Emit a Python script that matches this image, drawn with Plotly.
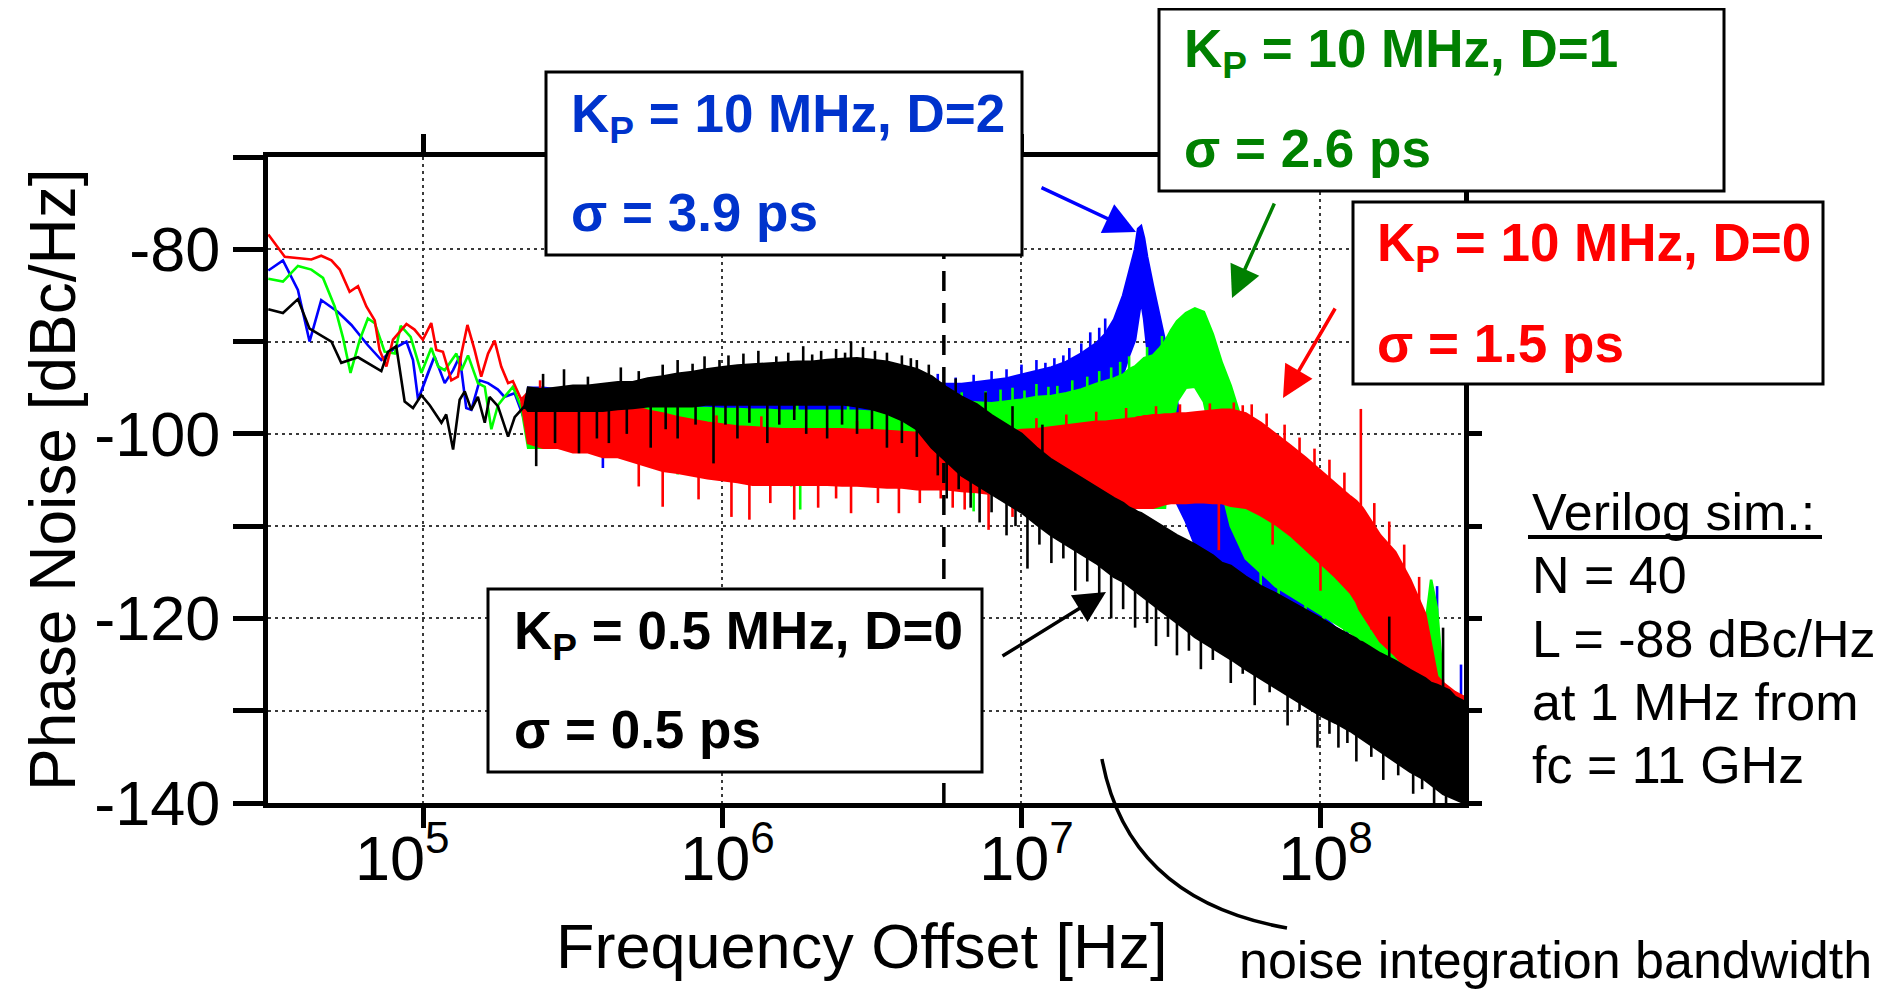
import plotly.graph_objects as go

# ---------------- data (log10 of offset frequency [Hz], phase noise [dBc/Hz]) ----------------
# low-frequency part: individual lines
RED_LINE_LOGF = [4.481, 4.536, 4.625, 4.658, 4.692, 4.720, 4.753, 4.781, 4.809, 4.837, 4.853, 4.876, 4.898,
                 4.943, 4.970, 4.998, 5.026, 5.043, 5.065, 5.093, 5.115, 5.127, 5.147, 5.171, 5.193, 5.216,
                 5.238, 5.260, 5.283, 5.299, 5.327]
RED_LINE_DB = [-78.4, -80.8, -81.1, -80.7, -81.2, -82.2, -84.6, -84.0, -86.2, -87.7, -90.9, -92.7, -89.8,
               -88.1, -88.7, -89.8, -88.0, -90.9, -91.1, -94.2, -93.8, -91.3, -88.2, -90.9, -93.8, -91.3,
               -89.9, -92.7, -94.5, -94.3, -96.3]

BLUE_LINE_LOGF = [4.481, 4.530, 4.580, 4.619, 4.658, 4.714, 4.759, 4.814, 4.859, 4.904, 4.943, 4.965, 4.982,
                  5.015, 5.037, 5.071, 5.099, 5.121, 5.143, 5.160, 5.188, 5.216, 5.249, 5.271, 5.305, 5.338]
BLUE_LINE_DB = [-82.3, -81.2, -84.4, -90.0, -85.5, -86.8, -88.2, -90.4, -92.0, -90.7, -90.0, -92.0, -96.3,
                -93.4, -91.6, -94.5, -93.1, -91.6, -97.2, -97.4, -94.2, -94.5, -95.2, -96.0, -95.6, -98.5]

GREEN_LINE_LOGF = [4.481, 4.530, 4.580, 4.625, 4.664, 4.703, 4.731, 4.756, 4.787, 4.814, 4.837, 4.870, 4.904,
                   4.924, 4.957, 4.993, 5.026, 5.049, 5.071, 5.110, 5.127, 5.149, 5.182, 5.205, 5.227, 5.249,
                   5.271, 5.299, 5.327]
GREEN_LINE_DB = [-83.2, -83.5, -81.8, -82.2, -83.1, -86.2, -89.6, -93.4, -89.8, -87.5, -88.0, -91.1, -91.3,
                 -88.3, -89.5, -93.4, -90.7, -92.7, -93.1, -91.3, -93.1, -91.5, -94.5, -94.9, -99.5, -96.9,
                 -96.0, -94.9, -97.1]

BLACK_LINE_LOGF = [4.481, 4.530, 4.580, 4.619, 4.692, 4.725, 4.781, 4.859, 4.881, 4.909, 4.937, 4.965, 4.993,
                   5.021, 5.060, 5.076, 5.099, 5.121, 5.138, 5.160, 5.182, 5.205, 5.221, 5.249, 5.283, 5.305,
                   5.338]
BLACK_LINE_DB = [-86.5, -86.9, -85.4, -88.6, -90.0, -92.3, -91.7, -93.2, -91.1, -90.5, -96.5, -97.2, -95.8,
                 -96.9, -98.8, -97.9, -101.7, -96.3, -95.4, -97.4, -96.0, -98.8, -96.0, -97.0, -100.3, -98.2,
                 -97.0]

# high-frequency part: dense noise bands, upper / lower envelope of the band body on a common grid
BAND_LOGF = [5.35, 5.40, 5.45, 5.50, 5.55, 5.60, 5.65, 5.70, 5.75, 5.80,
             5.85, 5.90, 5.95, 6.00, 6.05, 6.10, 6.15, 6.20, 6.25, 6.30,
             6.35, 6.40, 6.45, 6.50, 6.55, 6.60, 6.65, 6.70, 6.75, 6.80,
             6.85, 6.90, 6.95, 7.00, 7.05, 7.10, 7.15, 7.20, 7.25, 7.28,
             7.31, 7.34, 7.36, 7.38, 7.39, 7.40, 7.41, 7.42, 7.44, 7.46,
             7.48, 7.50, 7.52, 7.55, 7.58, 7.61, 7.64, 7.67, 7.70, 7.75,
             7.80, 7.85, 7.90, 7.95, 8.00, 8.05, 8.10, 8.12, 8.13, 8.14,
             8.16, 8.20, 8.25, 8.30, 8.35, 8.37, 8.39, 8.41, 8.43, 8.45,
             8.48]

BLUE_HI = [-95.0, -95.0, -95.2, -95.2, -95.3, -95.3, -95.3, -95.2, -95.0, -95.0,
           -95.0, -94.8, -94.8, -94.6, -94.6, -94.5, -94.5, -94.5, -94.5, -94.5,
           -94.5, -94.5, -94.5, -94.5, -94.5, -94.5, -94.5, -94.5, -94.6, -94.6,
           -94.4, -94.2, -94.0, -93.6, -93.2, -92.8, -92.2, -91.3, -90.2, -89.2,
           -87.6, -85.0, -82.5, -80.0, -77.8, -77.5, -78.8, -80.8, -84.0, -87.0,
           -90.0, -93.0, -96.5, -102.0, -104.0, -105.0, -105.5, -106.5, -107.5, -109.0,
           -111.0, -114.0, -116.5, -118.0, -119.5, -121.0, -122.0, -122.5, -122.8, -123.0,
           -123.5, -124.5, -125.5, -126.5, -127.5, -127.8, -128.0, -128.2, -128.3, -128.5,
           -128.5]
BLUE_LO = [-100.5, -100.5, -100.5, -100.5, -100.5, -101.0, -100.5, -100.5, -100.5, -100.5,
           -100.5, -100.5, -100.5, -100.5, -100.5, -100.5, -100.5, -100.5, -100.5, -100.5,
           -100.5, -100.5, -100.5, -100.5, -100.5, -100.5, -100.5, -100.5, -100.2, -100.2,
           -100.0, -100.0, -99.5, -99.5, -99.0, -99.0, -98.5, -98.0, -97.5, -96.5,
           -95.5, -93.5, -91.5, -89.8, -87.5, -85.5, -87.5, -90.5, -93.5, -98.0,
           -102.0, -105.0, -107.5, -109.5, -112.0, -113.0, -113.5, -114.0, -114.5, -115.5,
           -116.5, -118.0, -119.5, -120.5, -121.5, -123.0, -124.0, -124.5, -125.0, -125.0,
           -125.5, -126.5, -127.5, -128.5, -129.5, -130.0, -130.0, -130.5, -131.0, -131.5,
           -132.0]

GREEN_HI = [-96.0, -96.0, -96.0, -96.2, -96.2, -96.3, -96.5, -96.6, -96.8, -97.0,
            -97.0, -97.2, -97.2, -97.3, -97.3, -97.4, -97.4, -97.5, -97.5, -97.5,
            -97.5, -97.5, -97.5, -97.6, -97.6, -97.6, -97.5, -97.2, -96.8, -96.5,
            -96.6, -96.7, -96.5, -96.3, -96.0, -95.9, -95.6, -95.2, -94.6, -94.3,
            -94.0, -93.6, -93.0, -92.7, -92.4, -92.0, -91.8, -91.7, -91.5, -90.8,
            -90.0, -88.8, -87.8, -86.9, -86.4, -86.8, -89.2, -92.3, -94.8, -100.0,
            -104.0, -106.0, -107.0, -108.0, -109.0, -110.0, -111.0, -111.5, -112.0, -112.0,
            -112.5, -114.0, -116.0, -118.5, -121.0, -115.8, -119.0, -127.0, -130.0, -132.0,
            -133.0]
GREEN_LO = [-101.5, -101.5, -101.5, -101.5, -101.5, -101.5, -101.5, -101.5, -101.5, -101.8,
            -102.0, -102.0, -102.2, -102.5, -102.7, -103.0, -103.0, -103.2, -103.5, -103.5,
            -103.5, -103.5, -103.8, -104.0, -104.0, -104.0, -104.2, -104.3, -104.5, -104.5,
            -104.8, -105.0, -105.0, -105.0, -105.2, -105.5, -106.0, -106.0, -106.5, -106.5,
            -107.0, -107.0, -107.0, -107.5, -107.5, -107.5, -107.5, -108.0, -108.0, -108.0,
            -108.0, -100.0, -96.5, -95.0, -94.9, -96.5, -101.0, -106.0, -110.0, -113.5,
            -115.0, -116.5, -117.5, -118.5, -119.5, -120.5, -121.5, -122.0, -122.5, -123.0,
            -123.5, -124.0, -124.8, -126.0, -126.3, -126.3, -126.5, -130.0, -133.0, -134.0,
            -134.0]

RED_HI = [-95.5, -95.5, -96.0, -96.0, -96.5, -96.5, -97.0, -97.0, -97.5, -97.8,
          -98.2, -98.5, -98.8, -99.0, -99.2, -99.3, -99.4, -99.5, -99.5, -99.5,
          -99.5, -99.5, -99.6, -99.6, -99.7, -99.8, -99.9, -100.0, -100.1, -100.2,
          -100.2, -100.0, -99.8, -99.6, -99.5, -99.3, -99.1, -98.9, -98.7, -98.7,
          -98.6, -98.5, -98.4, -98.3, -98.2, -98.2, -98.1, -98.1, -98.0, -98.0,
          -97.9, -97.9, -97.8, -97.8, -97.7, -97.6, -97.5, -97.4, -97.4, -97.8,
          -98.8, -100.0, -101.3, -102.6, -104.0, -105.5, -106.8, -107.3, -107.6, -108.0,
          -109.0, -111.0, -112.8, -115.8, -119.5, -122.7, -126.3, -127.0, -127.5, -128.0,
          -128.5]
RED_LO = [-101.0, -101.5, -101.5, -102.0, -102.0, -102.5, -102.5, -103.0, -103.5, -104.0,
          -104.2, -104.5, -104.8, -105.0, -105.2, -105.5, -105.5, -105.5, -105.5, -105.5,
          -105.5, -105.6, -105.6, -105.7, -105.8, -105.8, -106.0, -106.0, -106.0, -106.2,
          -106.3, -106.5, -106.8, -107.0, -107.2, -107.5, -107.5, -107.8, -108.0, -108.0,
          -108.0, -108.0, -108.0, -108.0, -108.0, -108.0, -108.0, -108.0, -108.0, -107.8,
          -107.6, -107.5, -107.5, -107.5, -107.4, -107.4, -107.5, -107.5, -107.8, -108.0,
          -108.8, -109.8, -111.0, -112.5, -114.0, -115.5, -117.2, -118.2, -119.0, -119.5,
          -120.5, -122.5, -124.0, -125.8, -127.0, -127.4, -127.7, -128.5, -129.0, -129.2,
          -129.5]

BLACK_HI = [-95.0, -95.2, -95.0, -94.8, -94.8, -94.6, -94.4, -94.4, -94.0, -93.8,
            -93.5, -93.3, -93.0, -92.8, -92.6, -92.5, -92.4, -92.3, -92.2, -92.2,
            -92.0, -91.9, -91.8, -92.0, -92.2, -92.6, -93.0, -93.8, -95.0, -96.0,
            -96.8, -98.0, -99.0, -100.0, -101.5, -102.8, -103.8, -104.8, -105.8, -106.4,
            -107.0, -107.5, -108.0, -108.3, -108.5, -108.6, -108.8, -109.0, -109.4, -109.8,
            -110.2, -110.6, -111.0, -111.5, -112.0, -112.6, -113.2, -114.0, -114.3, -115.5,
            -116.5, -117.3, -118.2, -119.1, -120.0, -121.0, -121.8, -122.2, -122.5, -122.6,
            -123.0, -123.8, -124.6, -125.6, -126.5, -127.0, -127.2, -127.5, -127.8, -128.5,
            -129.0]
BLACK_LO = [-97.5, -97.5, -97.5, -97.5, -97.5, -97.5, -97.3, -97.2, -97.0, -97.0,
            -97.0, -97.0, -96.8, -96.8, -96.8, -96.8, -96.8, -96.8, -96.8, -96.8,
            -96.8, -96.8, -97.0, -97.3, -97.8, -98.5, -99.5, -101.5, -103.0, -104.5,
            -105.5, -106.5, -107.5, -108.5, -109.8, -111.0, -112.0, -113.0, -114.0, -114.7,
            -115.5, -116.0, -116.5, -117.0, -117.2, -117.5, -117.7, -118.0, -118.5, -119.0,
            -119.5, -120.0, -120.5, -121.2, -122.0, -122.6, -123.2, -123.8, -124.4, -125.5,
            -126.5, -127.5, -128.5, -129.5, -130.5, -131.3, -132.2, -132.6, -132.8, -133.0,
            -133.5, -134.4, -135.5, -136.6, -137.5, -138.0, -138.5, -139.0, -139.3, -139.6,
            -140.0]

# isolated spectral spikes sticking out of the bands: (log10 f, tip dB, root dB)
BLUE_SPK_LOGF = [5.60, 6.00, 6.66, 6.72, 6.78, 6.84, 6.90, 6.95, 7.00, 7.05, 7.08, 7.11, 7.14, 7.16, 7.20,
                 7.23, 7.26, 7.28, 7.60, 7.97, 8.09, 8.39, 8.47]
BLUE_SPK_TIP = [-103.7, -103.5, -93.8, -93.5, -93.9, -93.6, -93.2, -93.0, -92.5, -92.0, -92.3, -91.8, -91.5,
                -90.7, -90.2, -89.0, -88.5, -87.5, -115.8, -121.2, -122.7, -116.5, -125.0]
BLUE_SPK_ROOT = [-100.0, -100.0, -95.0, -95.0, -95.0, -95.0, -94.5, -94.5, -94.0, -94.0, -93.5, -93.5, -93.0,
                 -92.5, -92.0, -91.0, -90.5, -89.5, -112.0, -119.0, -120.0, -128.0, -129.0]

GREEN_SPK_LOGF = [5.62, 5.78, 5.85, 6.05, 6.23, 6.25, 6.26, 6.42, 6.62, 6.74, 6.80, 6.84, 6.88, 6.93, 6.97,
                  7.01, 7.05, 7.09, 7.12, 7.17, 7.22, 7.26, 7.30, 7.33, 7.36, 7.42, 7.47, 7.80, 7.86, 7.95,
                  8.01, 8.08, 8.13, 8.17, 8.41]
GREEN_SPK_TIP = [-94.5, -95.0, -104.4, -95.5, -105.7, -95.8, -108.2, -96.0, -96.2, -95.3, -95.5, -108.4,
                 -95.4, -95.2, -95.0, -95.3, -94.6, -94.9, -94.8, -94.2, -93.8, -93.2, -92.8, -92.2, -91.6,
                 -90.6, -89.4, -117.6, -118.8, -121.0, -121.5, -124.0, -124.0, -126.0, -137.8]
GREEN_SPK_ROOT = [-96.5, -97.0, -101.0, -97.5, -103.0, -97.5, -103.0, -97.5, -97.8, -97.0, -97.0, -104.0,
                  -96.8, -96.8, -96.5, -96.5, -96.0, -96.0, -96.0, -95.5, -95.2, -94.6, -94.2, -93.8, -93.0,
                  -91.8, -90.8, -115.0, -116.5, -118.0, -119.5, -121.0, -122.0, -123.0, -130.0]

RED_SPK_LOGF = [5.39, 5.47, 5.98, 6.13, 6.45, 6.70, 7.05, 7.15, 7.25, 7.35, 7.45, 7.53, 7.63, 7.71, 7.74,
                7.77, 7.82, 7.88, 7.93, 7.98, 8.03, 8.08, 8.135, 8.18, 8.23, 8.28, 8.33,
                5.72, 5.80, 5.92, 6.03, 6.09, 6.16, 6.24, 6.32, 6.38, 6.43, 6.52, 6.59, 6.66, 6.73, 6.77,
                6.81, 6.89, 6.97, 7.09, 7.17, 7.25, 7.33, 7.66, 7.84, 8.00, 8.17]
RED_SPK_TIP = [-94.2, -94.9, -98.0, -98.1, -98.6, -99.0, -98.3, -97.9, -97.6, -97.2, -97.0, -96.8, -96.7,
               -96.6, -96.9, -96.8, -97.8, -99.0, -100.4, -101.6, -102.8, -104.2, -97.3, -107.5, -109.5,
               -112.0, -115.5,
               -105.7, -107.9, -107.1, -109.0, -109.3, -107.5, -109.3, -108.0, -107.0, -108.6, -107.5,
               -108.6, -107.5, -107.0, -108.0, -108.2, -110.4, -109.0, -110.0, -109.5, -110.0, -110.5,
               -112.6, -112.0, -117.0, -121.2]
RED_SPK_ROOT = [-96.0, -96.5, -99.5, -99.8, -100.0, -100.5, -99.8, -99.3, -98.9, -98.5, -98.2, -98.0, -97.7,
                -98.0, -98.0, -98.5, -99.2, -100.8, -102.2, -103.4, -105.0, -106.2, -108.5, -110.0, -112.0,
                -115.0, -118.5,
                -102.0, -103.0, -104.0, -104.5, -105.0, -105.0, -105.0, -105.0, -105.0, -105.0, -105.0,
                -105.5, -105.5, -105.5, -105.8, -106.0, -106.0, -106.5, -107.0, -107.3, -107.5, -107.5,
                -107.0, -108.5, -113.0, -118.0]

BLACK_SPK_LOGF = [5.40, 5.47, 5.55, 5.66, 5.72, 5.80, 5.85, 5.90, 5.94, 5.99, 6.02, 6.07, 6.12, 6.18, 6.22,
                  6.27, 6.30, 6.33, 6.38, 6.41, 6.43, 6.47, 6.51, 6.55, 6.60, 6.63, 6.65, 6.69, 6.78, 6.88,
                  6.97, 7.07, 8.23, 8.41,
                  5.377, 5.44, 5.52, 5.58, 5.62, 5.68, 5.76, 5.81, 5.85, 5.91, 5.97, 6.01, 6.05, 6.09, 6.15,
                  6.19, 6.24, 6.28, 6.35, 6.40, 6.45, 6.50, 6.55, 6.60, 6.65,
                  6.72, 6.75, 6.79, 6.83, 6.86, 6.90, 6.95, 6.98, 7.02, 7.06, 7.10, 7.14, 7.18, 7.22, 7.26,
                  7.30, 7.34, 7.38, 7.42, 7.45, 7.49, 7.52, 7.56, 7.60, 7.64, 7.70, 7.74, 7.78, 7.83, 7.89,
                  7.93, 7.99, 8.03, 8.06, 8.09, 8.12, 8.17, 8.21, 8.26, 8.31, 8.34, 8.38, 8.42]
BLACK_SPK_TIP = [-93.5, -93.0, -93.8, -92.8, -93.2, -92.5, -92.0, -92.4, -91.6, -92.0, -91.5, -91.3, -91.0,
                 -91.6, -91.2, -90.5, -91.4, -91.0, -90.8, -91.2, -90.0, -90.6, -91.0, -91.2, -91.5, -91.8,
                 -92.0, -92.5, -94.0, -95.5, -97.0, -99.0, -119.8, -121.0,
                 -103.5, -101.0, -102.1, -100.5, -101.0, -100.0, -101.5, -99.5, -100.5, -99.0, -103.2, -99.0,
                 -100.5, -98.8, -101.0, -99.0, -98.5, -100.0, -100.5, -99.0, -100.0, -99.5, -101.5, -101.0,
                 -102.5,
                 -104.5, -107.0, -106.0, -108.0, -109.6, -108.5, -111.0, -110.0, -114.6, -112.0, -114.0,
                 -113.5, -117.0, -116.0, -118.0, -120.0, -119.0, -121.0, -120.5, -123.0, -122.0, -124.0,
                 -123.5, -125.5, -124.5, -127.0, -126.0, -129.4, -128.0, -131.6, -130.0, -134.0, -132.5,
                 -134.0, -133.5, -135.5, -135.0, -137.5, -137.0, -139.0, -138.5, -140.0, -140.0]
BLACK_SPK_ROOT = [-95.5, -95.0, -95.0, -94.5, -94.5, -94.0, -94.0, -93.5, -93.5, -93.0, -93.0, -93.0, -93.0,
                  -93.0, -93.0, -93.0, -93.0, -93.0, -92.5, -92.5, -92.5, -92.5, -92.5, -93.0, -93.0, -93.5,
                  -94.0, -94.5, -96.5, -97.5, -99.5, -102.0, -125.0, -128.0,
                  -97.0, -97.0, -97.0, -97.0, -97.0, -97.0, -96.5, -96.5, -96.5, -96.5, -96.5, -96.5, -96.5,
                  -96.5, -96.5, -96.5, -96.5, -96.5, -96.5, -96.5, -97.0, -97.0, -97.5, -98.0, -99.0,
                  -101.0, -102.5, -103.5, -105.0, -105.5, -106.0, -107.0, -108.0, -108.5, -109.5, -110.5,
                  -111.5, -112.0, -113.0, -113.8, -114.5, -115.5, -116.5, -117.5, -118.0, -119.0, -119.8,
                  -120.6, -121.4, -122.5, -123.5, -124.5, -125.5, -126.5, -127.5, -128.5, -129.5, -130.5,
                  -131.0, -131.5, -132.0, -133.5, -134.0, -135.0, -136.0, -137.0, -138.0, -139.0]

INTEGRATION_LIMIT_HZ = 5.5e6
X_TICKS = [1e5, 1e6, 1e7, 1e8]
X_TICKTEXT = ["10<sup>5</sup>\u00a0\u00a0\u00a0", "10<sup>6</sup>", "10<sup>7</sup>", "10<sup>8</sup>"]
Y_TICKS = [-140, -130, -120, -110, -100, -90, -80, -70]
Y_TICKTEXT = ["-140", "", "-120", "", "-100", "", "-80", ""]

FONT = "Liberation Sans, Arial, sans-serif"

# ---------------- figure ----------------
fig = go.Figure()


def band(line_logf, line_db, hi, lo, color):
    xs = line_logf + BAND_LOGF + BAND_LOGF[::-1] + line_logf[::-1]
    ys = line_db + hi + lo[::-1] + line_db[::-1]
    return go.Scatter(x=[10 ** v for v in xs], y=ys, mode="lines", fill="toself",
                      fillcolor=color, line=dict(color=color, width=2.6),
                      hoverinfo="skip", showlegend=False)


def spikes(logf, tip, root, color):
    xs, ys = [], []
    for f, t, r in zip(logf, tip, root):
        xs += [10 ** f, 10 ** f, None]
        ys += [r, t, None]
    return go.Scatter(x=xs, y=ys, mode="lines", line=dict(color=color, width=2.6),
                      hoverinfo="skip", showlegend=False)


for args, spk, col in [
    ((BLUE_LINE_LOGF, BLUE_LINE_DB, BLUE_HI, BLUE_LO), (BLUE_SPK_LOGF, BLUE_SPK_TIP, BLUE_SPK_ROOT), "#0000FF"),
    ((GREEN_LINE_LOGF, GREEN_LINE_DB, GREEN_HI, GREEN_LO), (GREEN_SPK_LOGF, GREEN_SPK_TIP, GREEN_SPK_ROOT), "#00FF00"),
    ((RED_LINE_LOGF, RED_LINE_DB, RED_HI, RED_LO), (RED_SPK_LOGF, RED_SPK_TIP, RED_SPK_ROOT), "#FF0000"),
    ((BLACK_LINE_LOGF, BLACK_LINE_DB, BLACK_HI, BLACK_LO), (BLACK_SPK_LOGF, BLACK_SPK_TIP, BLACK_SPK_ROOT), "#000000"),
]:
    fig.add_trace(band(*args, col))
    fig.add_trace(spikes(*spk, col))

# dashed integration-bandwidth limit
fig.add_trace(go.Scatter(x=[INTEGRATION_LIMIT_HZ, INTEGRATION_LIMIT_HZ], y=[-140, -70], mode="lines",
                         line=dict(color="black", width=3.5, dash="20px,12px"),
                         hoverinfo="skip", showlegend=False))
# carrier for the mirrored (top / right) axes
fig.add_trace(go.Scatter(x=[], y=[], xaxis="x2", yaxis="y2", showlegend=False, hoverinfo="skip"))

# page pixel geometry of the reference plot area (the page body adds an 8 px offset)
OFF = 8
L, R, T, B = 268, 1464, 157, 803
W_PLOT, H_PLOT = R - L, B - T
FIG_W, FIG_H = 1894 - OFF, 989 - OFF


def px(x):
    return (x - L) / W_PLOT


def py(y):
    return (B - y) / H_PLOT


axis_common = dict(showline=True, linewidth=5, linecolor="black", ticks="outside", tickwidth=5,
                   tickcolor="black", zeroline=False)
grid = dict(showgrid=True, gridcolor="#3a3a3a", gridwidth=2, griddash="3px,4px")

fig.update_layout(
    width=FIG_W, height=FIG_H,
    margin=dict(l=L - OFF, r=FIG_W - (R - OFF), t=T - OFF, b=FIG_H - (B - OFF), autoexpand=False),
    paper_bgcolor="white", plot_bgcolor="white", showlegend=False,
    xaxis=dict(type="log", range=[4.48, 8.48], tickvals=X_TICKS, ticktext=X_TICKTEXT, ticklen=20,
               tickfont=dict(family=FONT, size=63, color="black"), ticklabelshift=5,
               ticklabelstandoff=-24, **axis_common, **grid),
    yaxis=dict(range=[-140, -70], tickvals=Y_TICKS, ticktext=Y_TICKTEXT, ticklen=30,
               tickfont=dict(family=FONT, size=63, color="black"),
               **axis_common, **grid),
    xaxis2=dict(type="log", range=[4.48, 8.48], overlaying="x", side="top", anchor="y",
                tickvals=X_TICKS, showticklabels=False, ticklen=18, showgrid=False, **axis_common),
    yaxis2=dict(range=[-140, -70], overlaying="y", side="right", anchor="x",
                tickvals=Y_TICKS, showticklabels=False, ticklen=13, showgrid=False, **axis_common),
)

shapes = []
annotations = []

# annotation boxes
BOXES = [
    # (x0, y0, x1, y1) px, text colour, line1, line2, text left, line1 centre, line2 centre
    ((546, 72, 1022, 255), "#0033CC", "K<sub>P</sub> = 10 MHz, D=2", "\u03c3 = 3.9 ps", 569, 117.5, 212.5),
    ((1159, 9, 1724, 191), "#008000", "K<sub>P</sub> = 10 MHz, D=1", "\u03c3 = 2.6 ps", 1182, 52.5, 148.5),
    ((1353, 202, 1823, 384), "#FF0000", "K<sub>P</sub> = 10 MHz, D=0", "\u03c3 = 1.5 ps", 1375, 246.5, 343),
    ((488, 589, 982, 772), "#000000", "K<sub>P</sub> = 0.5 MHz, D=0", "\u03c3 = 0.5 ps", 512, 634, 729),
]
for (x0, y0, x1, y1), col, t1, t2, tx, c1, c2 in BOXES:
    shapes.append(dict(type="rect", xref="paper", yref="paper", x0=px(x0), x1=px(x1), y0=py(y1), y1=py(y0),
                       fillcolor="white", line=dict(color="black", width=3), layer="above"))
    for txt, cy in ((t1, c1), (t2, c2)):
        annotations.append(dict(text="<b>" + txt + "</b>", xref="paper", yref="paper", x=px(tx), y=py(cy),
                                xanchor="left", yanchor="middle", showarrow=False,
                                font=dict(family=FONT, size=53, color=col)))

# arrows: (head x, head y, tail x, tail y, colour)
ARROWS = [
    (1136, 232, 1040, 187, "#0000FF"),
    (1232, 298, 1275, 202, "#008000"),
    (1283, 398, 1336, 307, "#FF0000"),
    (1106, 592, 1001, 657, "#000000"),
]
for hx, hy, tx, ty, col in ARROWS:
    annotations.append(dict(text="", xref="paper", yref="paper", x=px(hx), y=py(hy), ax=tx - hx, ay=ty - hy,
                            showarrow=True, arrowhead=2, arrowsize=1.8, arrowwidth=3.5, arrowcolor=col,
                            standoff=0, startstandoff=0))

# axis titles
annotations.append(dict(text="Phase Noise [dBc/Hz]", xref="paper", yref="paper", x=px(53), y=py(480),
                        textangle=-90, showarrow=False, xanchor="center", yanchor="middle",
                        font=dict(family=FONT, size=64, color="black")))
annotations.append(dict(text="Frequency Offset [Hz]", xref="paper", yref="paper", x=px(862), y=py(946),
                        showarrow=False, xanchor="center", yanchor="middle",
                        font=dict(family=FONT, size=63, color="black")))

# simulation info text
INFO = ["Verilog sim.:", "N = 40", "L = -88 dBc/Hz", "at 1 MHz from", "fc = 11 GHz"]
INFO_Y = [511.5, 574.5, 638.5, 701.5, 764.5]
for txt, yy in zip(INFO, INFO_Y):
    annotations.append(dict(text=txt, xref="paper", yref="paper", x=px(1530), y=py(yy), xanchor="left",
                            yanchor="middle", showarrow=False, font=dict(family=FONT, size=52, color="black")))
shapes.append(dict(type="line", xref="paper", yref="paper", x0=px(1528), x1=px(1822), y0=py(537), y1=py(537),
                   line=dict(color="black", width=4), layer="above"))

# noise integration bandwidth label and curved connector
annotations.append(dict(text="noise integration bandwidth", xref="paper", yref="paper", x=px(1237), y=py(960),
                        xanchor="left", yanchor="middle", showarrow=False,
                        font=dict(family=FONT, size=52, color="black")))
p0, c, p2 = (1102, 759), (1128, 900), (1287, 928)
path = "M %.4f,%.4f Q %.4f,%.4f %.4f,%.4f" % (px(p0[0]), py(p0[1]), px(c[0]), py(c[1]), px(p2[0]), py(p2[1]))
shapes.append(dict(type="path", xref="paper", yref="paper", path=path, line=dict(color="black", width=3.5),
                   layer="above"))

fig.update_layout(shapes=shapes, annotations=annotations)

fig.write_html("out.html")
